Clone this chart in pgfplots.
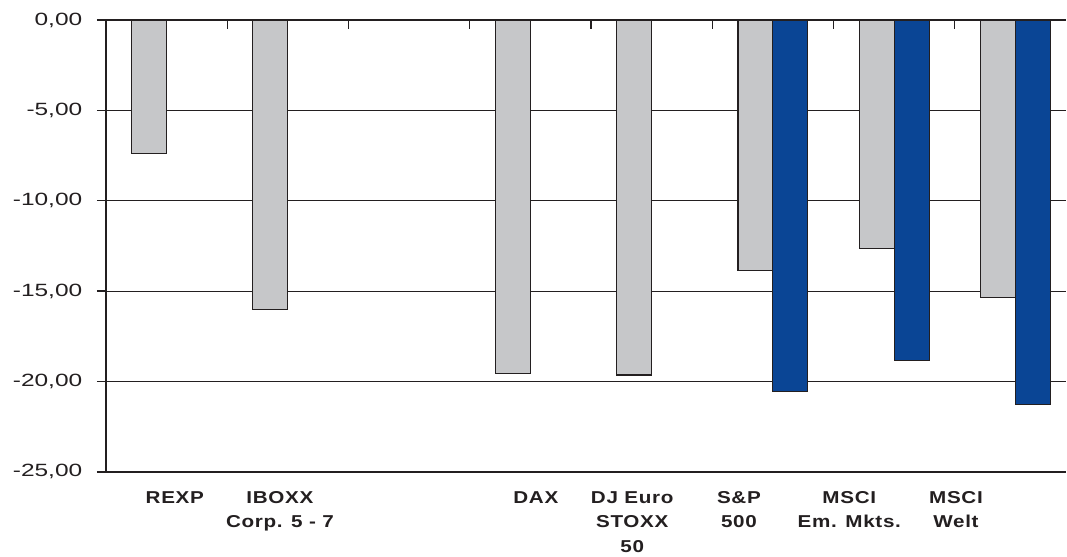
\documentclass[border=0pt]{standalone}
\usepackage{fontspec}
\setmainfont{Liberation Sans}[FakeStretch=1.38]
\newfontfamily\catfont{Liberation Sans}[FakeStretch=1.2,LetterSpace=4]
\usepackage{pgfplots}
\pgfplotsset{compat=1.18}
\definecolor{bargray}{HTML}{C6C7C9}
\definecolor{barblue}{HTML}{0A4595}
\definecolor{edge}{HTML}{231F20}
\begin{document}
\begin{tikzpicture}
\begin{axis}[
  name=ax,
  scale only axis, width=720.5pt, height=339pt,
  xmin=-0.5, xmax=7.42, ymin=-25, ymax=0,
  axis x line=box, axis y line=left,
  ybar, bar width=26.25pt,
  axis line style={edge, line width=1pt, -},
  ytick={-25,-20,-15,-10,-5,0},
  ytick align=outside,
  ymajorgrids, grid style={edge, line width=0.8pt},
  major tick length=6.75pt,
  tick style={edge, line width=1pt},
  xtick={-0.5,0.5,...,6.5},
  xtick pos=top, xticklabel pos=bottom, xtick align=inside,
  xticklabels={{},{},{},{},{},{},{},{}},
  extra x ticks={0.068,0.935,3.045,3.84,4.72,5.63,6.51},
  extra x tick labels={REXP, {IBOXX\\Corp. 5 - 7}, DAX, {DJ Euro\\STOXX\\50}, {S\&P\\500}, {MSCI\\Em. Mkts.}, {MSCI\\Welt}},
  extra x tick style={major tick length=0pt, grid=none, xticklabel pos=bottom},
  xticklabel style={font=\catfont\bfseries\fontsize{12.9}{18.4}\selectfont, align=center, color=edge, yshift=-11pt},
  yticklabel style={font=\fontsize{13.3}{16}\selectfont, color=edge, xshift=-7.5pt},
  /pgf/number format/.cd, fixed, fixed zerofill, precision=2, use comma, assume math mode=true,
]
\addplot[fill=bargray, draw=edge, line width=0.9pt, bar shift=-13.125pt]
  coordinates {(0,-7.39) (1,-16.0) (3,-19.55) (4,-19.64) (5,-13.88) (6,-12.66) (7,-15.37)};
\addplot[fill=barblue, draw=edge, line width=0.9pt, bar shift=13.125pt]
  coordinates {(5,-20.57) (6,-18.85) (7,-21.29)};
\end{axis}
\path ([xshift=-79.5pt,yshift=15pt]ax.north west) ([yshift=-60.75pt]ax.south east);
\end{tikzpicture}
\end{document}
